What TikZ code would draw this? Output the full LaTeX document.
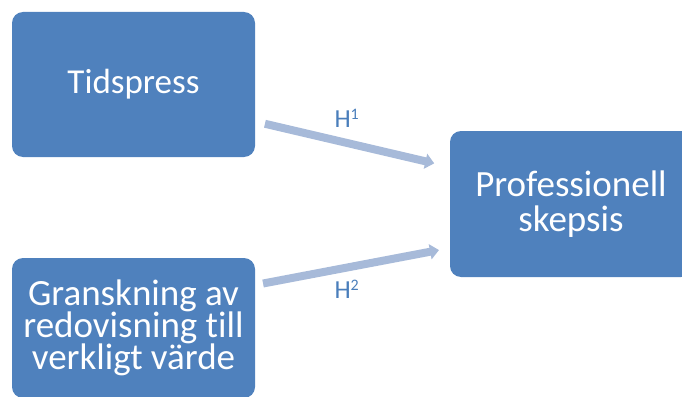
\documentclass[tikz,border=0pt]{standalone}
\usepackage{fontspec}
\setmainfont{Carlito}[Ligatures=NoCommon]
\usetikzlibrary{arrows.meta}
\definecolor{boxblue}{HTML}{4F81BD}
\definecolor{linkblue}{HTML}{A7BAD9}
\definecolor{hypblue}{HTML}{4A7EBB}
\setlength{\lineskiplimit}{-40pt}
\newcommand{\hyplabel}[1]{H\raisebox{8pt}{\fontsize{16}{16}\selectfont #1}}
\begin{document}
\begin{tikzpicture}[x=1pt,y=-1pt,
	box/.style={fill=boxblue,rounded corners=11pt,text=white,align=center,inner sep=0pt},
	link/.style={line width=8pt,color=linkblue,-{Triangle[width=15pt,length=9pt]}},
	hyp/.style={text=hypblue,font=\fontsize{26}{28}\selectfont}]
	\useasboundingbox (0,0) rectangle (682,396);
	\clip (0,0) rectangle (682,396);
	\node[box,minimum width=243pt,minimum height=145pt,font=\fontsize{35}{38}\selectfont] (tid) at (133.5,84.5) {Tidspress};
	\node[box,minimum width=243pt,minimum height=140pt,font=\fontsize{37}{32}\selectfont] (gra) at (133.5,328) {Granskning av\\redovisning till\\verkligt värde};
	\node[box,minimum width=242pt,minimum height=146pt,font=\fontsize{37}{35}\selectfont] (pro) at (571,204) {Professionell\\skepsis};
	\draw[link,shorten <=10pt,shorten >=16pt] ([yshift=-37pt]tid.east) -- ([yshift=37pt]pro.west) node[hyp,pos=0.47,above=8pt] {\hyplabel{1}};
	\draw[link,shorten <=8pt,shorten >=11pt] ([yshift=43pt]gra.east) -- ([yshift=-44pt]pro.west) node[hyp,pos=0.47,below=5pt] {\hyplabel{2}};
\end{tikzpicture}
\end{document}
